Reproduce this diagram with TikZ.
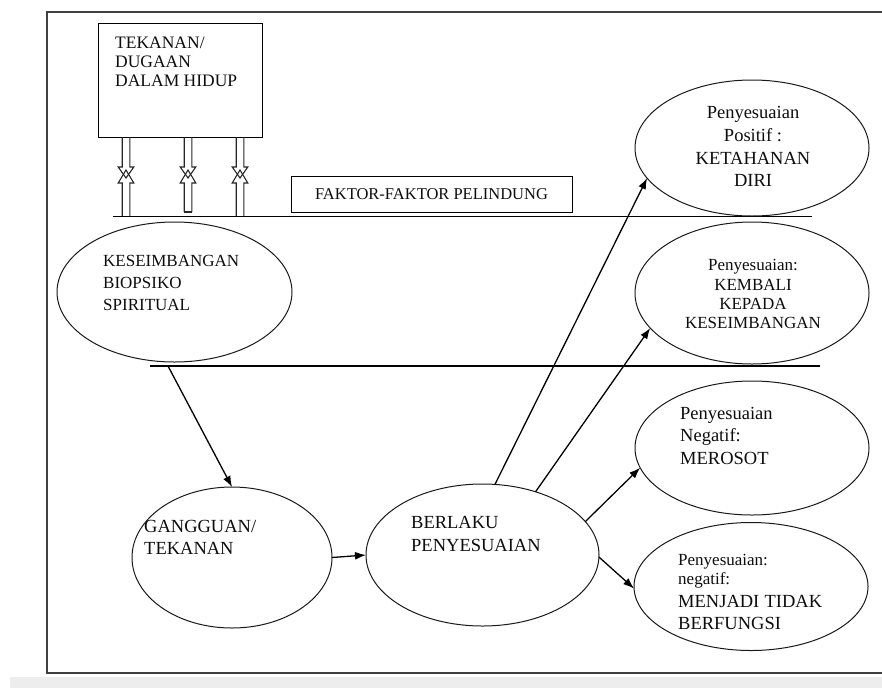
\documentclass[tikz,border=0pt]{standalone}
\usepackage{fontspec}
\setmainfont{Liberation Serif}
\newfontfamily\tnr{Liberation Serif}
\usetikzlibrary{shapes.geometric,arrows.meta}
\begin{document}
\begin{tikzpicture}[x=1pt,y=-1pt,
  ell/.style={ellipse, draw=black!90, line width=1pt, inner sep=0pt, outer sep=0pt},
  lab/.style={anchor=base west, inner sep=0pt, text=black!95},
  labc/.style={anchor=base, inner sep=0pt, text=black!95},
  fa/.style={font=\tnr\fontsize{17}{20}\selectfont},
  fb/.style={font=\tnr\fontsize{18.5}{22}\selectfont},
  fc/.style={font=\tnr\fontsize{17}{20}\selectfont},
  fd/.style={font=\tnr\fontsize{17.5}{20}\selectfont},
  fe/.style={font=\tnr\fontsize{16.5}{20}\selectfont},
  conn/.style={line width=1.3pt, -{Latex[length=11pt,width=8pt]}},
  hollow/.style={line width=1.1pt, draw=black!85},
]
\useasboundingbox (0,0) rectangle (882,688);
\fill[black!7] (10,677) rectangle (882,688);
\draw[line width=1.4pt, black!75] (884,12) -- (47,12) -- (47,673) -- (884,673);

% top box
\node[draw, line width=1pt, minimum width=164pt, minimum height=114pt, inner sep=0pt, anchor=north west] (press) at (98,23) {};
\node[lab, fd] (pressa) at (115,48) {TEKANAN/};
\node[lab, fd] (pressb) at (115,67) {DUGAAN};
\node[lab, fd] (pressc) at (115,86) {DALAM HIDUP};

% hollow double arrows
\foreach \cx/\yb in {126/216.5, 188/212, 240/216.5}{
  \draw[hollow] (\cx-3.8,137) -- (\cx-3.8,167) -- (\cx-7.8,167) -- (\cx,178) -- (\cx+7.8,167) -- (\cx+3.8,167) -- (\cx+3.8,137);
  \draw[hollow] (\cx-3.8,\yb) -- (\cx-3.8,183) -- (\cx-7.8,183) -- (\cx,170) -- (\cx+7.8,183) -- (\cx+3.8,183) -- (\cx+3.8,\yb);
}
\draw[hollow] (184.2,212) -- (191.8,212);

% protective factors box
\node[draw, line width=1pt, minimum width=281pt, minimum height=36pt, inner sep=0pt, fe, text=black!95] (prot) at (431.5,194) {FAKTOR-FAKTOR PELINDUNG};

% horizontal lines
\coordinate (l1a) at (113,216.5);
\coordinate (l1b) at (812,216.5);
\draw[line width=1.3pt] (l1a) -- (l1b);
\coordinate (l2a) at (150,366);
\coordinate (l2b) at (820,366);
\draw[line width=1.3pt] (l2a) -- (l2b);

% ellipses
\node[ell, minimum width=235pt, minimum height=140pt] (bal) at (174.5,292) {};
\node[ell, minimum width=200pt, minimum height=141pt] (gang) at (232,557.5) {};
\node[ell, minimum width=233pt, minimum height=142pt] (ber) at (482.5,555) {};
\node[ell, minimum width=234pt, minimum height=136pt] (pos) at (752,148) {};
\node[ell, minimum width=234pt, minimum height=142pt] (kem) at (752,293) {};
\node[ell, minimum width=234pt, minimum height=134pt] (mer) at (752,448) {};
\node[ell, minimum width=234pt, minimum height=128pt] (bf) at (751,586.5) {};

% texts
\node[lab, fc] (bala) at (103,266) {KESEIMBANGAN};
\node[lab, fc] (balb) at (103,288) {BIOPSIKO};
\node[lab, fc] (balc) at (103,310) {SPIRITUAL};

\node[lab, fb] (ganga) at (144,532) {GANGGUAN/};
\node[lab, fb] (gangb) at (144,554) {TEKANAN};

\node[lab, fb] (bera) at (411,528) {BERLAKU};
\node[lab, fb] (berb) at (411,551) {PENYESUAIAN};

\node[labc, fb] (posa) at (753,118) {Penyesuaian};
\node[labc, fb] (posb) at (753,141) {Positif :};
\node[labc, fb] (posc) at (753,164) {KETAHANAN};
\node[labc, fb] (posd) at (753,186) {DIRI};

\node[labc, fa] (kema) at (753,270) {Penyesuaian:};
\node[labc, fa] (kemb) at (753,290) {KEMBALI};
\node[labc, fa] (kemc) at (753,309) {KEPADA};
\node[labc, fa] (kemd) at (753,328) {KESEIMBANGAN};

\node[lab, fb] (mera) at (680,419) {Penyesuaian};
\node[lab, fb] (merb) at (680,441) {Negatif:};
\node[lab, fb] (merc) at (680,464) {MEROSOT};

\node[lab, fa] (bfa) at (678,565) {Penyesuaian:};
\node[lab, fa] (bfb) at (678,584) {negatif:};
\node[lab, fb] (bfc) at (678,607) {\makebox[144pt][s]{MENJADI\hfill TIDAK}};
\node[lab, fb] (bfd) at (678,629) {BERFUNGSI};

% connectors
\coordinate (l2s) at (168,366);
\draw[conn] (l2s) -- (gang.north);
\draw[conn] (gang.east) -- (ber.west);
\draw[conn] (ber.80) -- (pos.196);
\draw[conn] (ber.50) -- (kem.199);
\draw[conn] (ber.18) -- (mer.190);
\draw[conn] (ber.-1.5) -- (bf.181);
\end{tikzpicture}
\end{document}
